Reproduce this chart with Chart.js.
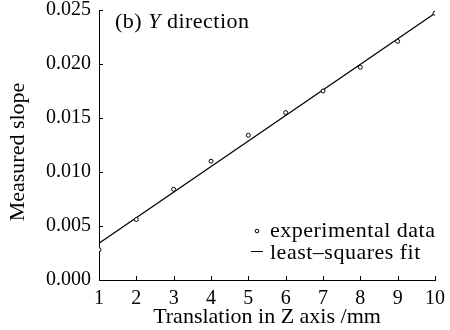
<!DOCTYPE html>
<html>
<head>
<meta charset="utf-8">
<script src="https://cdn.jsdelivr.net/npm/chart.js@4/dist/chart.umd.min.js"></script>
<style>
  html, body { margin: 0; padding: 0; background: #fff; }
  #wrap { width: 450px; height: 330px; }
</style>
</head>
<body>
<div id="wrap"><canvas id="slope"></canvas></div>
<script>
// Translation steps (mm) and the measured slope at each step
const translation = [1, 2, 3, 4, 5, 6, 7, 8, 9, 10];
const measuredSlope = [0.0028, 0.0056, 0.0084, 0.0110, 0.0134, 0.0155, 0.0175, 0.0197, 0.0221, 0.0247];

// End points of the least-squares line
const fitX = [1, 10];
const fitY = [0.0034, 0.0247];

const yTicks = [0, 0.005, 0.010, 0.015, 0.020, 0.025];

const SERIF = '"Liberation Serif", "Times New Roman", serif';

// short tick marks pointing into the plot, y title, panel label and legend
const decorations = {
    id: "decorations",
    afterDraw(chart) {
        const { ctx, chartArea: a, scales: { x, y } } = chart;
        ctx.save();
        ctx.strokeStyle = "#000";
        ctx.lineWidth = 1;
        ctx.beginPath();
        translation.forEach(v => {
            const px = Math.round(x.getPixelForValue(v)) + 0.5;
            ctx.moveTo(px, a.bottom);
            ctx.lineTo(px, a.bottom - 4);
        });
        yTicks.forEach(v => {
            const py = Math.round(y.getPixelForValue(v)) + 0.5;
            ctx.moveTo(a.left, py);
            ctx.lineTo(a.left + 4, py);
        });
        ctx.stroke();

        ctx.fillStyle = "#000";

        // y axis title
        ctx.save();
        ctx.translate(18, 152);
        ctx.rotate(-Math.PI / 2);
        ctx.font = `22px ${SERIF}`;
        ctx.textAlign = "center";
        ctx.textBaseline = "middle";
        ctx.fillText("Measured slope", 0, 0);
        ctx.restore();

        // panel label
        ctx.textBaseline = "alphabetic";
        ctx.letterSpacing = "0.5px";
        let tx = 115;
        const ty = 28;
        ctx.font = `22px ${SERIF}`;
        ctx.fillText("(b) ", tx, ty);
        tx += ctx.measureText("(b) ").width;
        ctx.font = `italic 22px ${SERIF}`;
        ctx.fillText("Y", tx, ty);
        tx += ctx.measureText("Y").width;
        ctx.font = `22px ${SERIF}`;
        ctx.fillText(" direction", tx, ty);

        // legend
        const ds = chart.data.datasets;
        ctx.beginPath();
        ctx.arc(257, 231, 1.8, 0, Math.PI * 2);
        ctx.stroke();
        ctx.fillText(ds[0].label, 270, 237);
        ctx.beginPath();
        ctx.moveTo(251, 251.5);
        ctx.lineTo(263, 251.5);
        ctx.stroke();
        ctx.fillText(ds[1].label, 270, 259);
        ctx.restore();
    }
};

new Chart(document.getElementById("slope"), {
    type: "scatter",
    data: {
        datasets: [
            {
                label: "experimental data",
                data: translation.map((t, i) => ({ x: t, y: measuredSlope[i] })),
                showLine: false,
                pointStyle: "circle",
                pointRadius: 2,
                pointBorderWidth: 1,
                pointBorderColor: "#000",
                pointBackgroundColor: "#fff",
                order: 1
            },
            {
                label: "least–squares fit",
                data: fitX.map((t, i) => ({ x: t, y: fitY[i] })),
                showLine: true,
                borderColor: "#000",
                borderWidth: 1.3,
                pointRadius: 0,
                order: 2
            }
        ]
    },
    options: {
        responsive: true,
        maintainAspectRatio: false,
        animation: false,
        layout: { padding: { top: 10, right: 15, bottom: 0, left: 0 } },
        plugins: {
            legend: { display: false },
            tooltip: { enabled: false }
        },
        scales: {
            x: {
                type: "linear",
                min: 1,
                max: 10,
                border: { display: true, color: "#000", width: 1 },
                grid: { display: true, drawOnChartArea: false, drawTicks: false },
                ticks: {
                    stepSize: 1,
                    color: "#000",
                    padding: 7,
                    maxRotation: 0,
                    font: { family: SERIF, size: 20 }
                },
                title: {
                    display: true,
                    text: "Translation in Z axis /mm",
                    color: "#000",
                    padding: { top: 0, bottom: 0 },
                    font: { family: SERIF, size: 22 }
                },
                afterFit(scale) {
                    scale.height = 50;
                    scale.paddingLeft = 0;
                    scale.paddingRight = 0;
                }
            },
            y: {
                min: 0,
                max: 0.025,
                border: { display: true, color: "#000", width: 1 },
                grid: { display: true, drawOnChartArea: false, drawTicks: false },
                ticks: {
                    stepSize: 0.005,
                    color: "#000",
                    padding: 8,
                    font: { family: SERIF, size: 20 },
                    callback: v => v.toFixed(3)
                },
                afterFit(scale) {
                    scale.width = 99;
                    scale.paddingTop = 0;
                    scale.paddingBottom = 0;
                }
            }
        }
    },
    plugins: [decorations]
});
</script>
</body>
</html>
